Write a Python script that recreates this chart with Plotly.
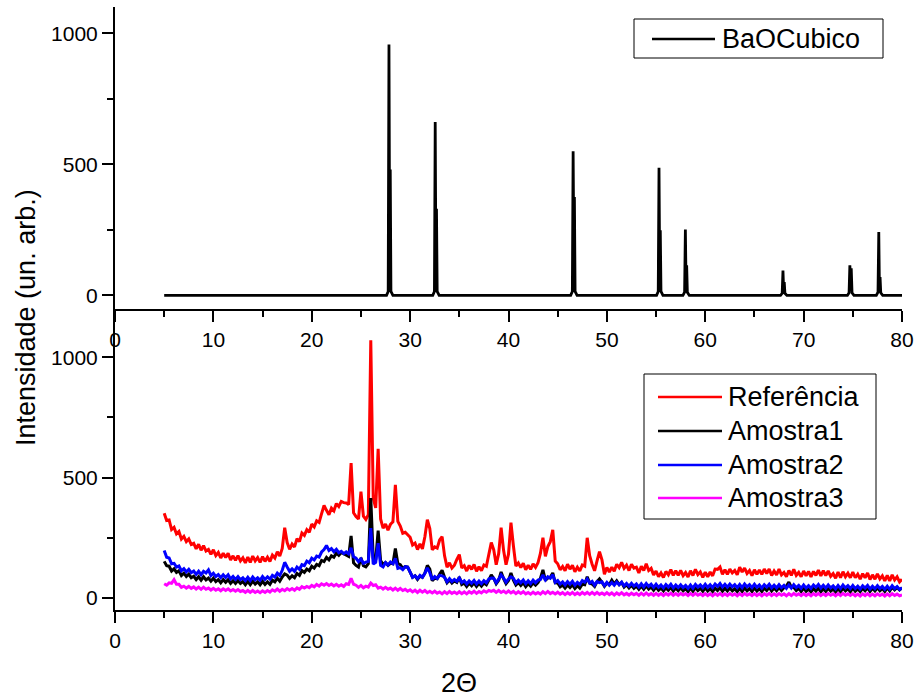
import plotly.graph_objects as go

# ---------------- data ----------------
# BaO cubic reference pattern (peak profile points, Ka1 + Ka2 shoulder)
bao_x = [5.0,
         27.6, 27.77, 27.85, 27.91, 27.98, 28.05, 28.25,
         32.3, 32.47, 32.55, 32.61, 32.68, 32.75, 32.95,
         46.32, 46.49, 46.57, 46.63, 46.7, 46.77, 46.97,
         55.05, 55.22, 55.3, 55.36, 55.43, 55.5, 55.7,
         57.73, 57.9, 57.98, 58.04, 58.11, 58.18, 58.38,
         67.65, 67.82, 67.9, 67.96, 68.03, 68.1, 68.3,
         74.45, 74.62, 74.7, 74.77, 74.84, 74.92, 75.12,
         77.39, 77.56, 77.64, 77.7, 77.77, 77.84, 78.04,
         80.0]
bao_y = [0,
         0, 15, 957, 290, 480, 15, 0,
         0, 15, 661, 200, 330, 15, 0,
         0, 15, 550, 225, 375, 15, 0,
         0, 15, 487, 150, 248, 15, 0,
         0, 12, 251, 70, 115, 12, 0,
         0, 8, 95, 30, 51, 8, 0,
         0, 10, 115, 60, 103, 10, 0,
         0, 12, 242, 45, 70, 10, 0,
         0]

# measured patterns, 2-theta from 5 to 80 in 0.25 steps
two_theta = [round(5 + 0.25 * i, 2) for i in range(301)]

referencia = [
    352, 322, 324, 284, 293, 266, 276, 245, 256, 234, 245, 222, 227, 204, 223, 198, 217, 195, 202, 181,
    200, 176, 189, 166, 186, 168, 186, 158, 175, 156, 176, 154, 167, 146, 170, 148, 174, 154, 168, 148,
    172, 152, 169, 152, 178, 166, 192, 174, 206, 292, 230, 202, 224, 212, 246, 234, 270, 260, 284, 273,
    307, 295, 321, 314, 350, 384, 364, 346, 373, 362, 392, 380, 401, 396, 395, 388, 560, 354, 338, 328,
    442, 340, 326, 346, 1070, 414, 374, 620, 328, 290, 307, 282, 306, 316, 470, 318, 299, 269, 273, 263,
    252, 220, 228, 201, 225, 204, 254, 325, 288, 200, 212, 207, 241, 255, 175, 128, 146, 124, 136, 160,
    180, 125, 134, 112, 135, 119, 139, 111, 130, 113, 137, 132, 176, 230, 200, 138, 184, 292, 198, 138,
    182, 313, 216, 132, 145, 126, 144, 117, 136, 119, 142, 127, 146, 186, 250, 173, 214, 234, 283, 153,
    142, 117, 131, 113, 140, 120, 136, 109, 128, 112, 137, 132, 250, 176, 140, 113, 154, 192, 158, 98,
    127, 108, 128, 111, 140, 126, 148, 123, 136, 114, 140, 124, 128, 104, 132, 114, 142, 114, 123, 96,
    112, 88, 104, 85, 110, 96, 118, 94, 113, 94, 114, 93, 106, 87, 113, 93, 119, 97, 108, 86,
    107, 88, 108, 92, 120, 119, 129, 98, 118, 98, 120, 104, 114, 96, 128, 108, 124, 102, 114, 93,
    117, 98, 116, 98, 120, 102, 120, 93, 112, 96, 120, 96, 106, 88, 114, 94, 119, 94, 106, 88,
    112, 92, 110, 88, 110, 94, 116, 92, 113, 93, 112, 90, 101, 82, 108, 84, 109, 88, 103, 84,
    107, 84, 99, 78, 101, 84, 104, 77, 96, 78, 100, 79, 92, 71, 94, 71, 96, 75, 88, 67,
    78]

amostra1 = [
    152, 134, 132, 112, 121, 106, 113, 93, 103, 89, 99, 84, 90, 76, 88, 74, 88, 75, 83, 70,
    82, 68, 76, 63, 76, 65, 76, 61, 72, 60, 72, 60, 68, 55, 69, 55, 70, 58, 67, 55,
    69, 56, 67, 57, 74, 67, 82, 70, 87, 100, 95, 81, 92, 84, 102, 94, 114, 106, 120, 113,
    132, 124, 139, 134, 156, 151, 168, 158, 175, 169, 187, 177, 189, 184, 181, 173, 258, 146, 135, 128,
    167, 134, 129, 142, 415, 166, 158, 280, 155, 139, 147, 135, 144, 142, 205, 143, 138, 123, 130, 128,
    107, 86, 92, 77, 91, 86, 103, 135, 120, 72, 82, 80, 99, 115, 86, 63, 75, 62, 71, 65,
    87, 56, 62, 48, 61, 51, 63, 48, 61, 49, 62, 55, 74, 96, 81, 59, 73, 108, 80, 59,
    72, 104, 74, 54, 64, 52, 63, 47, 59, 49, 63, 53, 64, 82, 117, 73, 83, 86, 104, 63,
    62, 46, 54, 41, 54, 43, 55, 39, 51, 41, 57, 55, 88, 62, 58, 48, 68, 79, 65, 48,
    62, 56, 74, 58, 71, 56, 64, 45, 55, 42, 53, 40, 49, 36, 49, 36, 50, 37, 45, 32,
    45, 32, 41, 29, 42, 32, 44, 29, 41, 30, 42, 30, 39, 27, 41, 28, 43, 31, 40, 28,
    42, 29, 39, 27, 41, 31, 43, 28, 40, 29, 41, 29, 38, 26, 40, 27, 42, 30, 39, 27,
    42, 29, 39, 27, 41, 31, 44, 29, 41, 30, 43, 31, 42, 50, 66, 45, 44, 31, 40, 27,
    41, 28, 37, 25, 39, 29, 41, 26, 38, 27, 40, 28, 37, 25, 39, 26, 41, 29, 38, 26,
    41, 28, 38, 26, 40, 30, 42, 27, 40, 29, 42, 30, 39, 27, 42, 29, 45, 34, 44, 33,
    42]

amostra2 = [
    197, 169, 166, 142, 144, 128, 133, 113, 122, 108, 119, 105, 112, 98, 111, 97, 111, 104, 117, 93,
    103, 89, 97, 84, 96, 85, 96, 79, 89, 77, 89, 76, 84, 72, 86, 72, 87, 75, 84, 73,
    89, 77, 88, 78, 94, 87, 103, 93, 115, 148, 129, 111, 121, 111, 128, 119, 138, 134, 153, 146,
    165, 158, 174, 170, 191, 201, 218, 197, 205, 192, 202, 188, 194, 184, 191, 183, 208, 171, 165, 151,
    162, 144, 149, 152, 290, 141, 148, 228, 135, 129, 147, 137, 149, 142, 164, 123, 126, 118, 130, 128,
    107, 86, 92, 80, 94, 86, 103, 125, 105, 76, 89, 81, 94, 92, 86, 67, 80, 68, 77, 69,
    83, 64, 71, 58, 71, 61, 73, 58, 70, 59, 72, 63, 79, 83, 82, 63, 78, 96, 83, 65,
    79, 88, 82, 62, 74, 63, 75, 59, 71, 60, 74, 63, 74, 77, 96, 75, 88, 82, 97, 65,
    72, 58, 67, 54, 68, 57, 69, 53, 65, 56, 72, 65, 79, 62, 69, 53, 68, 64, 67, 51,
    65, 53, 64, 53, 66, 55, 66, 50, 60, 49, 61, 49, 58, 45, 59, 46, 60, 48, 57, 44,
    57, 44, 54, 42, 56, 45, 57, 42, 54, 43, 55, 43, 52, 40, 54, 41, 56, 45, 54, 43,
    57, 44, 55, 43, 58, 48, 60, 45, 57, 45, 58, 46, 55, 43, 56, 43, 58, 46, 55, 43,
    57, 44, 54, 41, 55, 45, 57, 42, 53, 42, 55, 43, 52, 40, 54, 41, 55, 43, 52, 40,
    54, 41, 51, 40, 54, 44, 56, 41, 53, 41, 54, 42, 50, 38, 52, 39, 54, 42, 51, 39,
    52, 39, 49, 37, 51, 41, 52, 37, 49, 38, 51, 39, 48, 36, 49, 36, 51, 39, 47, 35,
    42]

amostra3 = [
    59, 53, 63, 61, 76, 57, 57, 44, 49, 41, 48, 40, 46, 37, 45, 36, 45, 36, 41, 33,
    40, 32, 38, 30, 38, 31, 38, 29, 35, 28, 35, 27, 31, 23, 31, 23, 31, 23, 29, 22,
    30, 23, 31, 24, 34, 28, 37, 28, 36, 30, 39, 32, 39, 32, 42, 36, 47, 41, 48, 43,
    52, 46, 56, 49, 59, 53, 60, 52, 58, 50, 57, 49, 55, 48, 59, 56, 82, 57, 53, 44,
    52, 42, 49, 45, 62, 52, 55, 41, 45, 37, 44, 36, 41, 33, 41, 32, 40, 31, 36, 28,
    34, 25, 32, 23, 32, 24, 31, 22, 28, 21, 28, 20, 25, 17, 26, 18, 27, 19, 25, 18,
    26, 18, 25, 17, 26, 20, 28, 19, 27, 21, 30, 24, 31, 27, 32, 23, 31, 23, 29, 21,
    29, 21, 27, 18, 26, 19, 26, 17, 23, 16, 24, 17, 23, 16, 26, 18, 27, 18, 24, 17,
    24, 16, 22, 14, 22, 15, 23, 14, 21, 14, 23, 16, 23, 15, 23, 15, 23, 15, 21, 14,
    22, 14, 21, 12, 21, 14, 22, 13, 19, 12, 20, 13, 19, 11, 20, 12, 21, 12, 18, 11,
    19, 11, 18, 10, 19, 12, 20, 11, 18, 11, 19, 12, 18, 10, 19, 11, 19, 11, 17, 10,
    18, 10, 17, 9, 18, 11, 19, 10, 17, 10, 18, 11, 17, 9, 18, 10, 19, 11, 17, 10,
    18, 10, 17, 9, 18, 11, 19, 10, 17, 10, 18, 11, 17, 9, 18, 10, 19, 11, 17, 10,
    18, 10, 17, 9, 18, 11, 19, 10, 17, 10, 18, 11, 17, 9, 18, 10, 19, 11, 17, 10,
    17, 9, 16, 8, 17, 10, 18, 9, 16, 9, 17, 10, 16, 8, 17, 9, 18, 10, 16, 9,
    13]

series_names = ["Referência", "Amostra1", "Amostra2", "Amostra3"]
series_colors = ["#FF0000", "#000000", "#0000FF", "#FF00FF"]
series_values = [referencia, amostra1, amostra2, amostra3]

x_ticks = [0, 10, 20, 30, 40, 50, 60, 70, 80]
y_ticks = [0, 500, 1000]

# ---------------- layout geometry (pixels) ----------------
W, H = 920, 700
ML, MR, MT, MB = 115, 18, 7, 90
PW, PH = W - ML - MR, H - MT - MB


def fx(px):
    return (px - ML) / PW


def fy(py):
    return (H - MB - py) / PH


FONT = "Liberation Sans, Arial, sans-serif"

fig = go.Figure()

fig.add_trace(go.Scatter(x=bao_x, y=bao_y, mode="lines", name="BaOCubico",
                         line=dict(color="black", width=2.8),
                         xaxis="x", yaxis="y", showlegend=False))

for name, color, vals in zip(series_names, series_colors, series_values):
    fig.add_trace(go.Scatter(x=two_theta, y=vals, mode="lines", name=name,
                             line=dict(color=color, width=3),
                             xaxis="x2", yaxis="y2", showlegend=False))

axis_common = dict(
    showline=True, linecolor="black", linewidth=2, mirror=False,
    ticks="outside", ticklen=11, tickwidth=2, tickcolor="black",
    showgrid=False, zeroline=False,
    tickfont=dict(family=FONT, size=21, color="black"),
)
xaxis_common = dict(axis_common, range=[0, 80], tickvals=x_ticks,
                    minor=dict(ticks="outside", ticklen=6, tickwidth=2,
                               tickcolor="black", dtick=5, tick0=0, showgrid=False))
yaxis_common = dict(axis_common, tickvals=y_ticks,
                    minor=dict(ticks="outside", ticklen=6, tickwidth=2,
                               tickcolor="black", dtick=250, tick0=0, showgrid=False))

fig.update_layout(
    width=W, height=H,
    margin=dict(l=ML, r=MR, t=MT, b=MB),
    paper_bgcolor="white", plot_bgcolor="white",
    showlegend=False,
    xaxis=dict(xaxis_common, anchor="y", domain=[0, 1]),
    yaxis=dict(yaxis_common, anchor="x", domain=[0.5, 1], range=[-50, 1100]),
    xaxis2=dict(xaxis_common, anchor="y2", domain=[0, 1]),
    yaxis2=dict(yaxis_common, anchor="x2", domain=[0, 0.499], range=[-50, 1200]),
)

# axis titles
fig.add_annotation(text="Intensidade (un. arb.)", xref="paper", yref="paper",
                   x=fx(26), y=fy(318), textangle=-90, showarrow=False,
                   xanchor="center", yanchor="middle",
                   font=dict(family=FONT, size=27, color="black"))
fig.add_annotation(text="2Θ", xref="paper", yref="paper",
                   x=fx(459), y=fy(683), showarrow=False,
                   xanchor="center", yanchor="middle",
                   font=dict(family=FONT, size=27, color="black"))


# legend boxes drawn with shapes so the sample lines keep their length
def legend_box(x0, y0, x1, y1):
    fig.add_shape(type="rect", xref="paper", yref="paper",
                  x0=fx(x0), x1=fx(x1), y0=fy(y1), y1=fy(y0),
                  line=dict(color="black", width=1), fillcolor="white", layer="above")


def legend_item(y, color, label, lx0, lx1, tx):
    fig.add_shape(type="line", xref="paper", yref="paper",
                  x0=fx(lx0), x1=fx(lx1), y0=fy(y), y1=fy(y),
                  line=dict(color=color, width=2.5), layer="above")
    fig.add_annotation(text=label, xref="paper", yref="paper",
                       x=fx(tx), y=fy(y), showarrow=False,
                       xanchor="left", yanchor="middle",
                       font=dict(family=FONT, size=27, color="black"))


legend_box(634, 19, 883, 58)
legend_item(39, "black", "BaOCubico", 652, 715, 720)

legend_box(644, 374, 876, 519)
for i, (name, color) in enumerate(zip(series_names, series_colors)):
    legend_item([397, 431, 465, 498][i], color, name, 658, 722, 726)

fig.write_html("out.html")
